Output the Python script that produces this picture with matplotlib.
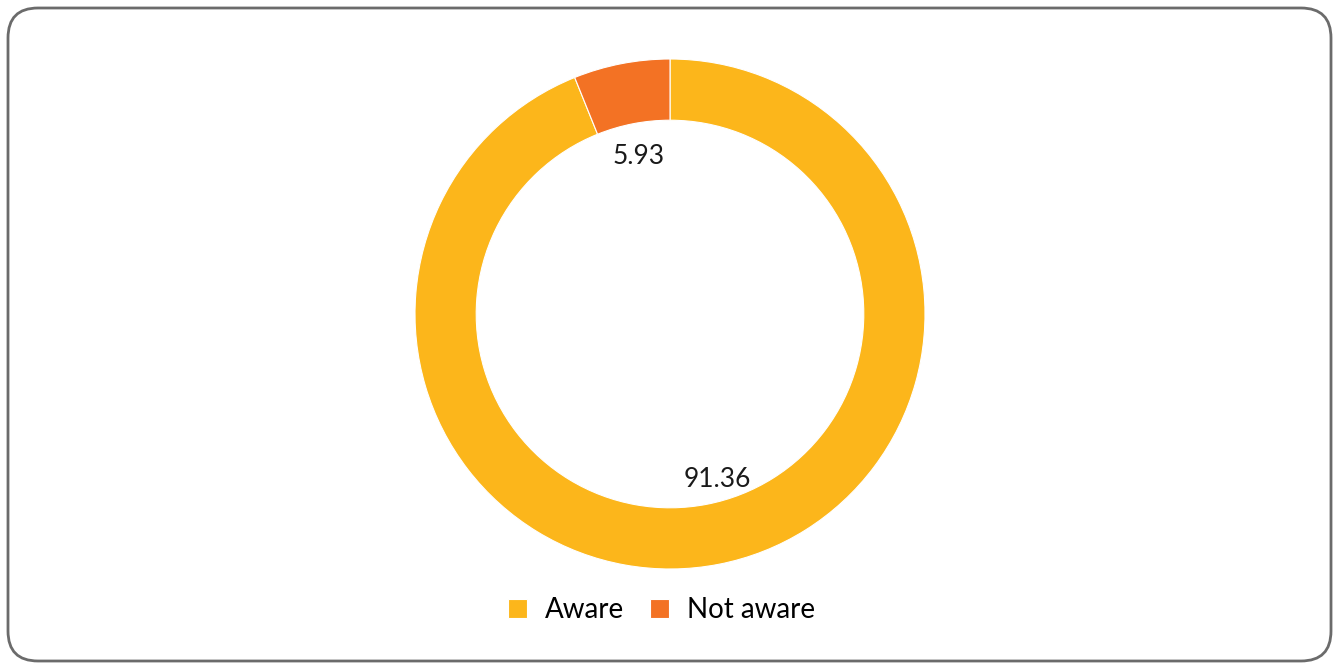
import matplotlib.pyplot as plt
from matplotlib.patches import FancyBboxPatch

# awareness shares (%)
labels = ['Aware', 'Not aware']
values = [91.36, 5.93]
colors = ['#FCB61B', '#F37224']

plt.rcParams['font.family'] = ['Lato', 'DejaVu Sans']

W, H = 1339, 665
fig = plt.figure(figsize=(W / 100, H / 100), dpi=100)
ax = fig.add_axes([0, 0, 1, 1])

total = sum(values)
wedges, texts, autotexts = ax.pie(
    values, colors=colors, startangle=90, counterclock=False,
    center=(670, H - 314), radius=255,
    wedgeprops=dict(width=255 * 0.24, edgecolor='white', linewidth=0.8),
    autopct=lambda p: '%.2f' % (p * total / 100), pctdistance=0.64,
    textprops=dict(fontsize=19, color='#1a1a1a'))

# small nudges so the labels sit like the original layout
x, y = autotexts[0].get_position()
autotexts[0].set_position((x + 16, y - 5))
x, y = autotexts[1].get_position()
autotexts[1].set_position((x, y - 3))

# outer rounded frame
frame = FancyBboxPatch((8, 4), W - 16, H - 12,
                       boxstyle='round,pad=0,rounding_size=30',
                       facecolor='none', edgecolor='#6b6b6b', linewidth=2)
ax.add_patch(frame)

ax.set_xlim(0, W)
ax.set_ylim(0, H)
ax.set_aspect('equal')
ax.axis('off')

fig.legend(wedges, labels, loc='center', bbox_to_anchor=(0.494, 1 - 610 / H),
           ncol=2, frameon=False, fontsize=20, handlelength=0.68,
           handleheight=0.68, handletextpad=0.65, columnspacing=0.95)

fig.savefig('out.png', dpi=100)
